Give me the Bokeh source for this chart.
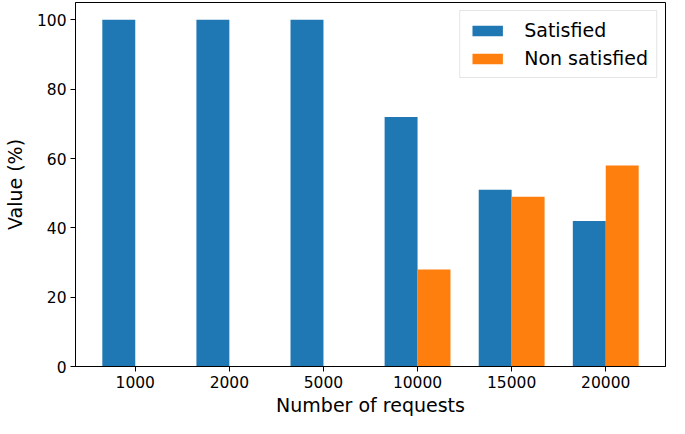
from bokeh.plotting import figure
from bokeh.models import Range1d, FixedTicker, ColumnDataSource, Legend, LegendItem
from bokeh.transform import dodge
from bokeh.embed import file_html
from bokeh.resources import INLINE

categories = ["1000", "2000", "5000", "10000", "15000", "20000"]
satisfied = [100, 100, 100, 72, 51, 42]
non_satisfied = [0, 0, 0, 28, 49, 58]
y_ticks = [0, 20, 40, 60, 80, 100]

idx = list(range(len(categories)))
src = ColumnDataSource(dict(x=idx, sat=satisfied, non=non_satisfied))

bar_w = 0.35
p = figure(width=669, height=418, output_backend="svg", toolbar_location=None,
           x_range=Range1d(-0.635, len(categories) - 1 + 0.635),
           y_range=Range1d(0, 105),
           min_border_left=0, min_border_right=4, min_border_top=2, min_border_bottom=0)

r1 = p.vbar(x=dodge("x", -bar_w / 2, range=p.x_range), top="sat", width=bar_w,
            source=src, fill_color="#1f77b4", line_color=None)
r2 = p.vbar(x=dodge("x", bar_w / 2, range=p.x_range), top="non", width=bar_w,
            source=src, fill_color="#ff7f0e", line_color=None)

p.xgrid.visible = False
p.ygrid.visible = False
p.outline_line_color = "black"
p.outline_line_width = 1
p.background_fill_color = "white"
p.border_fill_color = "white"

p.xaxis.ticker = FixedTicker(ticks=idx)
p.xaxis.major_label_overrides = {i: c for i, c in zip(idx, categories)}
p.yaxis.ticker = FixedTicker(ticks=y_ticks)

for ax in (p.xaxis[0], p.yaxis[0]):
    ax.major_tick_in = 0
    ax.major_tick_out = 5
    ax.minor_tick_line_color = None
    ax.axis_line_color = "black"
    ax.major_tick_line_color = "black"
    ax.major_label_text_font = "DejaVu Sans"
    ax.major_label_text_font_size = "15.5px"
    ax.major_label_text_color = "black"
    ax.axis_label_text_font = "DejaVu Sans"
    ax.axis_label_text_font_size = "19px"
    ax.axis_label_text_font_style = "normal"
    ax.axis_label_text_color = "black"
    ax.major_label_standoff = 4

p.xaxis.axis_label = "Number of requests"
p.yaxis.axis_label = "Value (%)"
p.xaxis.axis_label_standoff = 3
p.yaxis.axis_label_standoff = 8

legend = Legend(items=[LegendItem(label="Satisfied", renderers=[r1]),
                       LegendItem(label="Non satisfied", renderers=[r2])],
                location="top_right")
legend.label_text_font = "DejaVu Sans"
legend.label_text_font_size = "19px"
legend.label_text_color = "black"
legend.glyph_width = 38
legend.glyph_height = 13
legend.label_standoff = 18
legend.label_height = 21
legend.padding = 8
legend.spacing = 6
legend.margin = 8
legend.border_line_color = "#cccccc"
legend.border_line_width = 1
legend.background_fill_alpha = 0.8
p.add_layout(legend)

open("out.html", "w").write(file_html(p, INLINE))
